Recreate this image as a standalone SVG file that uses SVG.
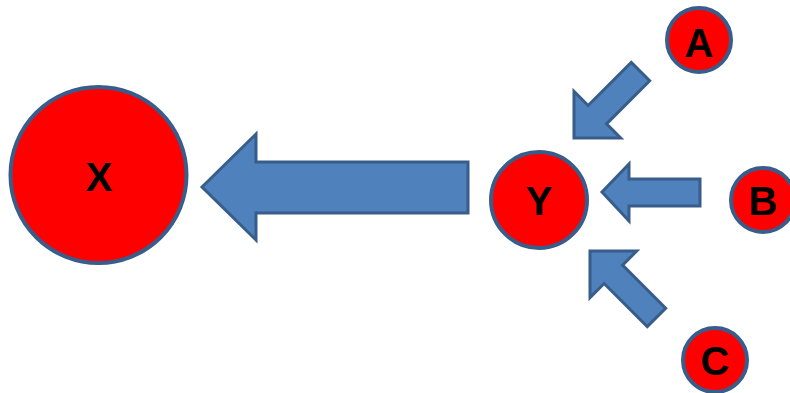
<svg xmlns="http://www.w3.org/2000/svg" width="790" height="393" viewBox="0 0 790 393">
<style>
.node{fill:#FF0000;stroke:#385D8A;stroke-width:4}
.lbl{font-family:"Liberation Sans",Arial,sans-serif;font-weight:bold;font-size:40px;fill:#000;text-anchor:middle}
.arr{fill:#4F81BD;stroke:#385D8A;stroke-width:3;stroke-linejoin:miter}
</style>
<rect width="790" height="393" fill="#FFFFFF"/>
<g id="connectors">
<path class="arr" d="M202,187 L256,134 L256,162 L468,162 L468,213 L256,213 L256,240 Z"/>
<path class="arr" d="M602,192 L629,164 L629,179 L700,179 L700,206 L629,206 L629,221 Z"/>
<path class="arr" transform="translate(574,138) rotate(-45)" d="M0,0 L33,-33 L33,-13 L94,-13 L94,13 L33,13 L33,33 Z"/>
<path class="arr" transform="translate(590,251) rotate(45)" d="M0,0 L33,-33 L33,-13 L94,-13 L94,13 L33,13 L33,33 Z"/>
</g>
<g id="node-X"><circle class="node" cx="98.5" cy="175" r="88"/><text class="lbl" x="99" y="191">X</text></g>
<g id="node-Y"><circle class="node" cx="539" cy="200" r="48"/><text class="lbl" x="539" y="215">Y</text></g>
<g id="node-A"><circle class="node" cx="699" cy="40" r="32"/><text class="lbl" x="699" y="57">A</text></g>
<g id="node-B"><circle class="node" cx="763" cy="200" r="32"/><text class="lbl" x="763" y="215">B</text></g>
<g id="node-C"><circle class="node" cx="715" cy="360" r="32"/><text class="lbl" x="715" y="375">C</text></g>
</svg>
